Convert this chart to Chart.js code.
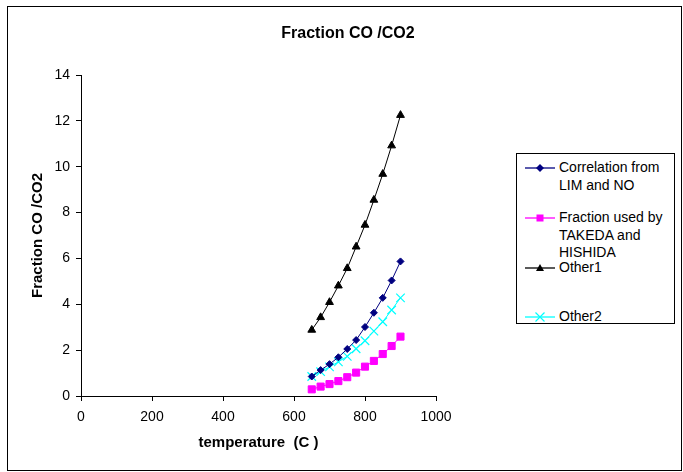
<!DOCTYPE html>
<html>
<head>
<meta charset="utf-8">
<script src="https://cdn.jsdelivr.net/npm/chart.js@4"></script>
<style>
  body { margin: 0; background: #fff; font-family: "Liberation Sans", Arial, sans-serif; }
  #wrap { position: relative; width: 683px; height: 472px; }
  #frame { position: absolute; left: 7px; top: 6px; width: 673px; height: 463px; border: 1px solid #000; pointer-events: none; }
  #title { position: absolute; left: 148px; top: 23px; width: 400px; text-align: center; font-weight: bold; font-size: 16px; line-height: 20px; }
  #legend { position: absolute; left: 516px; top: 153px; width: 157px; height: 169px; border: 1px solid #000; background: #fff; overflow: hidden; }
  .item { position: absolute; left: 0; font-size: 14px; line-height: 17.5px; }
  .item svg { position: absolute; left: 8px; top: 0px; }
  .item span { position: absolute; left: 42px; top: 0; white-space: nowrap; }
</style>
</head>
<body>
<div id="wrap">
  <canvas id="myChart" width="683" height="472"></canvas>
  <div id="title">Fraction CO /CO2</div>
  <div id="legend"></div>
  <div id="frame"></div>
</div>
<script>
// temperatures (C)
const temperaturas = [650, 675, 700, 725, 750, 775, 800, 825, 850, 875, 900];

// CO/CO2 fraction for each curve
const correlacionLimNo = [0.85, 1.13, 1.39, 1.69, 2.05, 2.44, 3.01, 3.63, 4.28, 5.04, 5.87];
const takedaHishida = [0.29, 0.41, 0.52, 0.65, 0.82, 1.02, 1.28, 1.53, 1.83, 2.18, 2.59];
const other1 = [2.88, 3.43, 4.09, 4.81, 5.57, 6.51, 7.46, 8.55, 9.68, 10.92, 12.25];
const other2 = [0.85, 1.06, 1.27, 1.49, 1.73, 2.06, 2.41, 2.83, 3.24, 3.75, 4.28];

const xTicks = [0, 200, 400, 600, 800, 1000];
const yTicks = [0, 2, 4, 6, 8, 10, 12, 14];

const toPoints = vals => vals.map((v, i) => ({ x: temperaturas[i], y: v }));

const series = [
    { label: 'Correlation from\nLIM and NO', data: correlacionLimNo, color: '#000080', style: 'rectRot', radius: 3.5, top: 159 },
    { label: 'Fraction used by\nTAKEDA and\nHISHIDA', data: takedaHishida, color: '#FF00FF', style: 'rect', radius: 5, top: 209 },
    { label: 'Other1', data: other1, color: '#000000', style: 'triangle', radius: 4.5, top: 259 },
    { label: 'Other2', data: other2, color: '#00FFFF', style: 'crossRot', radius: 6, top: 308 }
];

const ctx = document.getElementById('myChart').getContext('2d');
const myChart = new Chart(ctx, {
    type: 'scatter',
    data: {
        datasets: series.map(s => ({
            label: s.label,
            data: toPoints(s.data),
            showLine: true,
            borderColor: s.color,
            backgroundColor: s.color,
            borderWidth: 1,
            pointStyle: s.style,
            pointRadius: s.radius,
            pointBorderWidth: s.style === 'crossRot' ? 1.2 : 1,
            pointHoverRadius: s.radius
        }))
    },
    options: {
        responsive: false,
        animation: false,
        layout: { padding: { left: 0, right: 247, top: 75, bottom: 0 } },
        plugins: {
            legend: { display: false },
            tooltip: { enabled: false }
        },
        scales: {
            x: {
                type: 'linear',
                position: 'bottom',
                min: 0,
                max: 1000,
                afterBuildTicks: axis => { axis.ticks = xTicks.map(v => ({ value: v })); },
                afterFit: axis => { axis.height = 76; },
                title: {
                    display: true,
                    text: 'temperature  (C )',
                    color: '#000',
                    font: { family: 'Liberation Sans', size: 15, weight: 'bold' },
                    padding: { top: 0, bottom: 20 }
                },
                grid: { drawOnChartArea: false, drawTicks: true, tickLength: 5, color: '#000' },
                border: { color: '#000' },
                ticks: { color: '#000', padding: 8, font: { family: 'Liberation Sans', size: 14 }, callback: v => String(v) }
            },
            y: {
                min: 0,
                max: 14,
                afterBuildTicks: axis => { axis.ticks = yTicks.map(v => ({ value: v })); },
                afterFit: axis => { axis.width = 81; },
                title: {
                    display: true,
                    text: 'Fraction CO /CO2',
                    color: '#000',
                    font: { family: 'Liberation Sans', size: 15, weight: 'bold' },
                    padding: { top: 29, bottom: 0 }
                },
                grid: { drawOnChartArea: false, drawTicks: true, tickLength: 5, color: '#000' },
                border: { color: '#000' },
                ticks: { color: '#000', padding: 6, font: { family: 'Liberation Sans', size: 14 }, callback: v => String(v) }
            }
        }
    }
});

// legend drawn as html, with a little svg sample per series
function markerSvg(s) {
    const c = s.color;
    let m = '';
    if (s.style === 'rectRot') m = `<polygon points="15,5 19,9 15,13 11,9" fill="${c}"/>`;
    if (s.style === 'rect') m = `<rect x="11.5" y="5.5" width="7" height="7" fill="${c}"/>`;
    if (s.style === 'triangle') m = `<polygon points="15,5 19,12 11,12" fill="${c}"/>`;
    if (s.style === 'crossRot') m = `<path d="M10.5 4.5 L19.5 13.5 M19.5 4.5 L10.5 13.5" stroke="${c}" stroke-width="1.2"/>`;
    return `<svg width="30" height="18"><line x1="0" y1="9" x2="30" y2="9" stroke="${c}" stroke-width="1.3"/>${m}</svg>`;
}

const legend = document.getElementById('legend');
series.forEach(s => {
    const div = document.createElement('div');
    div.className = 'item';
    div.style.top = (s.top - 154) + 'px';
    div.innerHTML = markerSvg(s) + '<span>' + s.label.split('\n').join('<br>') + '</span>';
    legend.appendChild(div);
});
</script>
</body>
</html>
